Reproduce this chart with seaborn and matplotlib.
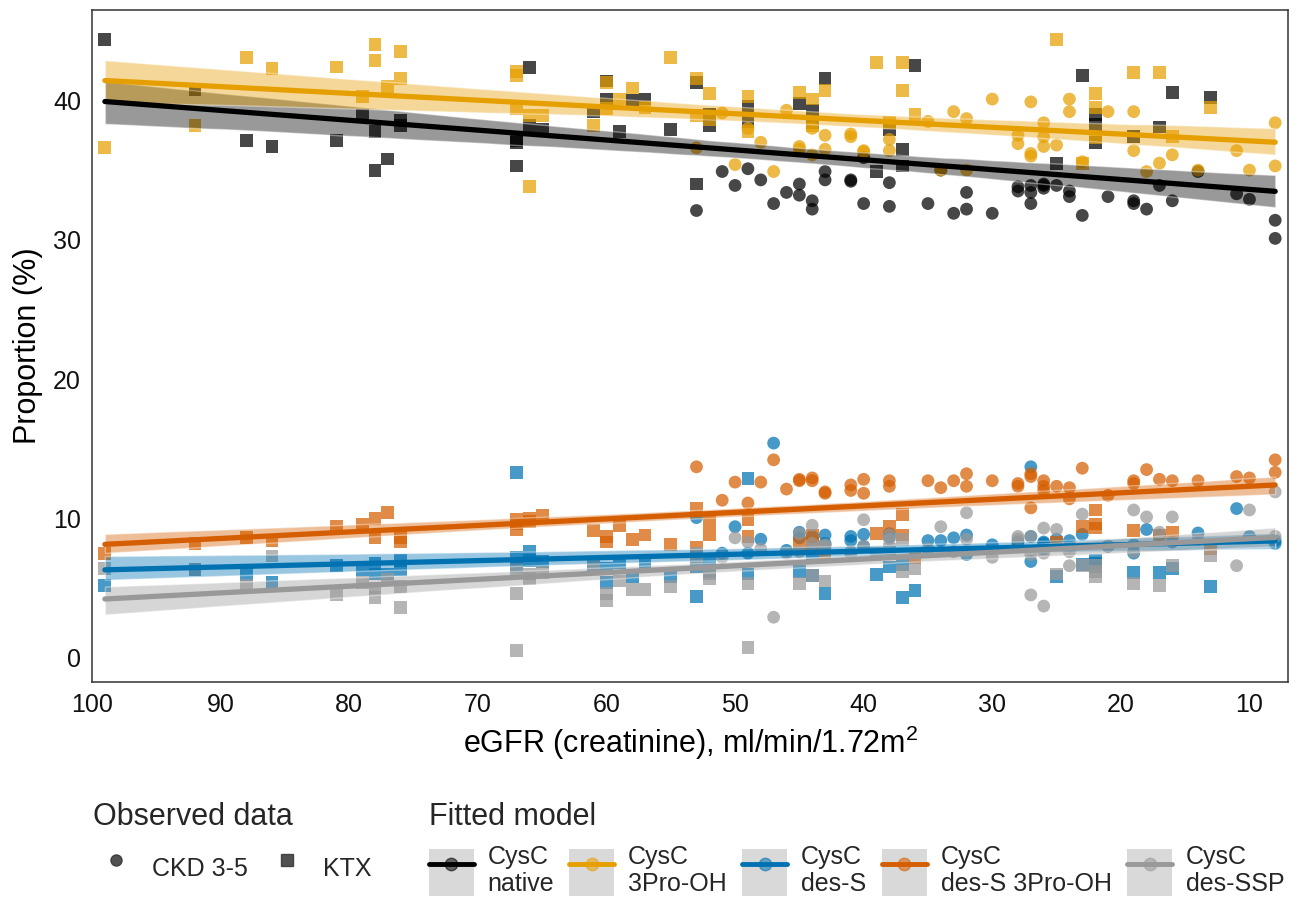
import numpy as np
import pandas as pd
import matplotlib
matplotlib.use('Agg')
import matplotlib.pyplot as plt
from matplotlib.lines import Line2D
from matplotlib.patches import Patch
from matplotlib.legend_handler import HandlerTuple
import seaborn as sns

# Theme first, fonts after (set_theme resets font.family)
sns.set_theme(style="white")
plt.rcParams['font.family'] = ['Liberation Sans', 'DejaVu Sans']
plt.rcParams['mathtext.fontset'] = 'custom'
plt.rcParams['mathtext.rm'] = 'Liberation Sans'
plt.rcParams['mathtext.it'] = 'Liberation Sans:italic'

# Observed data, KTX patients (squares)
ktx_egfr = [99, 92, 88, 86, 81, 79, 78, 78, 77, 76, 76, 67, 67, 67, 66, 66, 65, 61, 60, 60,
            59, 58, 57, 55, 53, 53, 52, 52, 49, 49, 45, 44, 44, 43, 39, 38, 37, 37, 36, 25,
            23, 22, 22, 22, 19, 17, 16, 13]
ktx_native = [44.4, 40.8, 37.1, 36.7, 37.1, 38.9, 37.8, 35.0, 35.8, 38.6, 38.2, 35.3, 37.1, 37.0,
              42.35, 38.2, 37.9, 39.2, 40.1, 41.4, 37.8, 40.0, 40.1, 37.9, 34.0, 41.3, 38.2, 39.0,
              39.6, 38.5, 39.8, 39.3, 38.4, 41.6, 34.9, 37.9, 36.5, 35.3, 42.5, 35.5, 41.8, 39.0,
              38.3, 37.0, 37.4, 38.1, 40.6, 40.2]
ktx_3prooh = [36.6, 38.2, 43.1, 42.3, 42.4, 40.3, 44.0, 42.9, 41.0, 41.6, 43.5, 42.1, 39.4, 41.8,
              33.8, 38.9, 38.9, 38.2, 41.3, 39.4, 40.1, 40.9, 39.5, 43.1, 41.6, 38.9, 40.5, 38.6,
              37.8, 40.3, 40.6, 40.1, 38.2, 40.7, 42.7, 38.4, 42.7, 40.7, 39.0, 44.4, 35.5, 37.3,
              39.5, 40.5, 42.0, 42.0, 37.4, 39.5]
ktx_des_s = [5.2, 6.3, 5.95, 5.4, 6.6, 6.3, 6.0, 6.75, 6.0, 7.0, 6.3, 13.3, 7.2, 6.5,
             7.6, 7.0, 6.9, 6.7, 5.4, 6.4, 6.8, 5.8, 6.8, 5.8, 6.5, 4.4, 6.8, 6.2,
             6.0, 12.85, 6.2, 5.9, 7.4, 4.6, 5.95, 6.5, 4.3, 6.7, 4.8, 5.8, 6.7, 6.5,
             6.8, 7.0, 6.1, 6.1, 6.4, 5.1]
ktx_des_s_3prooh = [7.5, 8.2, 8.65, 8.4, 9.4, 9.6, 8.65, 10.0, 10.4, 8.65, 8.3, 9.2, 9.6, 9.9,
                    10.0, 9.8, 10.2, 9.1, 8.7, 8.3, 9.5, 8.5, 8.8, 8.1, 10.7, 7.9, 8.8, 9.7,
                    9.9, 8.7, 8.2, 8.8, 8.2, 7.5, 8.9, 9.4, 10.3, 8.8, 7.2, 8.3, 9.4, 10.6,
                    9.6, 9.3, 9.1, 8.8, 9.0, 7.8]
ktx_des_ssp = [6.4, 6.3, 5.2, 7.3, 4.5, 5.4, 4.3, 5.0, 5.6, 3.6, 5.1, 0.5, 6.3, 4.6,
               5.7, 6.0, 6.1, 6.7, 4.6, 4.1, 5.5, 4.9, 4.9, 5.1, 7.2, 7.5, 5.7, 6.0,
               5.3, 0.75, 5.35, 5.9, 7.8, 5.5, 7.5, 7.8, 6.2, 8.5, 6.4, 6.0, 6.6, 6.6,
               5.8, 6.2, 5.3, 5.2, 6.6, 7.3]

# Observed data, CKD 3-5 patients (circles)
ckd_egfr = [53, 51, 50, 49, 48, 47, 46, 45, 45, 44, 44, 43, 43, 41, 41, 40, 40, 38, 38, 35,
            34, 33, 32, 32, 30, 28, 28, 27, 27, 27, 26, 26, 26, 25, 24, 24, 23, 21, 19, 19,
            18, 17, 16, 14, 11, 10, 8, 8]
ckd_native = [32.1, 34.9, 33.9, 35.1, 34.3, 32.6, 33.4, 34.0, 33.2, 32.8, 32.2, 34.9, 34.3, 34.3,
              34.2, 32.6, 35.9, 34.1, 32.4, 32.6, 35.0, 31.9, 33.4, 32.2, 31.9, 33.8, 33.5, 32.6,
              33.4, 33.9, 33.9, 33.7, 34.0, 33.9, 33.5, 33.1, 31.75, 33.1, 32.8, 32.6, 32.2, 33.9,
              32.8, 34.9, 33.3, 32.9, 31.4, 30.1]
ckd_3prooh = [36.6, 39.1, 35.4, 38.0, 37.0, 34.9, 39.3, 36.7, 36.5, 36.1, 38.0, 36.5, 37.5, 37.6,
              37.4, 36.3, 36.4, 36.4, 37.2, 38.5, 35.0, 39.2, 35.0, 38.7, 40.1, 36.9, 37.5, 39.9,
              36.2, 36.0, 38.4, 36.7, 37.4, 36.8, 39.2, 40.1, 35.6, 39.2, 36.4, 39.2, 34.9, 35.5,
              36.1, 35.0, 36.4, 35.0, 35.3, 38.4]
ckd_des_s = [10.05, 7.5, 9.4, 7.5, 8.5, 15.4, 7.7, 9.0, 8.6, 8.0, 8.7, 8.8, 8.2, 8.7,
             8.4, 8.85, 8.0, 8.65, 8.9, 8.4, 8.4, 8.6, 8.8, 7.4, 8.1, 8.3, 8.0, 6.9,
             8.7, 13.7, 7.8, 8.3, 8.2, 8.5, 8.4, 8.0, 8.85, 8.0, 7.5, 8.1, 9.2, 8.8,
             8.3, 8.95, 10.7, 8.7, 8.4, 8.2]
ckd_des_s_3prooh = [13.7, 11.3, 12.6, 11.1, 12.6, 14.2, 12.1, 12.7, 12.8, 12.7, 12.9, 11.8, 11.9, 12.0,
                    12.4, 12.8, 11.8, 12.3, 12.7, 12.7, 12.2, 12.7, 12.3, 13.2, 12.7, 12.5, 12.3, 13.2,
                    13.0, 10.75, 12.3, 12.0, 12.7, 12.3, 11.4, 12.2, 13.6, 11.65, 12.7, 12.5, 13.5, 12.8,
                    12.7, 12.7, 13.0, 12.9, 13.3, 14.2]
ckd_des_ssp = [7.5, 7.2, 8.6, 8.3, 7.8, 2.9, 7.5, 7.6, 8.9, 9.5, 8.2, 8.0, 8.1, 7.4,
               7.6, 9.9, 8.0, 8.5, 8.8, 7.8, 9.4, 7.6, 10.4, 8.5, 7.2, 8.5, 8.7, 7.4,
               8.7, 4.5, 7.5, 9.3, 3.7, 9.2, 7.6, 6.6, 10.3, 8.0, 10.6, 7.6, 10.1, 9.0,
               10.1, 8.5, 6.6, 10.6, 11.9, 8.7]

series_names = ['CysC\nnative', 'CysC\n3Pro-OH', 'CysC\ndes-S', 'CysC\ndes-S 3Pro-OH', 'CysC\ndes-SSP']
series_colors = ['#000000', '#E69F00', '#0072B2', '#D55E00', '#999999']
group_names = ['CKD 3-5', 'KTX']

ktx = pd.DataFrame({'egfr': ktx_egfr, series_names[0]: ktx_native, series_names[1]: ktx_3prooh,
                    series_names[2]: ktx_des_s, series_names[3]: ktx_des_s_3prooh,
                    series_names[4]: ktx_des_ssp})
ktx['group'] = 'KTX'
ckd = pd.DataFrame({'egfr': ckd_egfr, series_names[0]: ckd_native, series_names[1]: ckd_3prooh,
                    series_names[2]: ckd_des_s, series_names[3]: ckd_des_s_3prooh,
                    series_names[4]: ckd_des_ssp})
ckd['group'] = 'CKD 3-5'
df = pd.concat([ckd, ktx], ignore_index=True)
long = df.melt(id_vars=['egfr', 'group'], var_name='series', value_name='proportion')

palette = dict(zip(series_names, series_colors))

fig = plt.figure(figsize=(13, 8.97), dpi=100)
ax = fig.add_axes([0.0708, 0.2397, 0.9200, 0.7492])

# Points
sns.scatterplot(data=long, x='egfr', y='proportion', hue='series', style='group',
                palette=palette, markers={'CKD 3-5': 'o', 'KTX': 's'},
                s=85, alpha=0.72, edgecolor='none', linewidth=0, legend=False, ax=ax)

# Linear fits with 95% CI per series
for name, col in zip(series_names, series_colors):
    sub = long[long['series'] == name]
    sns.regplot(data=sub, x='egfr', y='proportion', scatter=False, color=col,
                ci=95, seed=3, truncate=True, line_kws={'lw': 3.8}, ax=ax)
    ax.collections[-1].set_alpha(0.4)

ax.set_xlim(100, 7)
ax.set_ylim(-1.75, 46.5)
ax.set_xticks(np.arange(100, 9, -10))
ax.set_yticks([0, 10, 20, 30, 40])
ax.set_xlabel(r'eGFR (creatinine), ml/min/1.72m$^2$', fontsize=22, color='black', labelpad=5)
ax.set_ylabel('Proportion (%)', fontsize=22, color='black', labelpad=7)
ax.tick_params(axis='both', direction='out', length=5, width=1.1, colors='#333333',
               labelsize=18, labelcolor='#111111', pad=3)
for sp in ax.spines.values():
    sp.set_color('#333333')
    sp.set_linewidth(1.1)
ax.grid(False)

# Legend: observed data (shape)
obs_handles = [Line2D([], [], linestyle='none', marker='o', markersize=8, color='#333333', alpha=0.85),
               Line2D([], [], linestyle='none', marker='s', markersize=8, color='#333333', alpha=0.85)]
leg1 = fig.legend(obs_handles, group_names, title='Observed data', loc='upper left',
                  bbox_to_anchor=(0.064, 0.117), ncol=2, frameon=False, fontsize=18,
                  title_fontsize=22, alignment='left', handlelength=1.8, handleheight=2.5,
                  handletextpad=0.55, columnspacing=0.65, borderaxespad=0)

# Legend: fitted model (colour)
fit_handles = []
for col in series_colors:
    fit_handles.append((Patch(facecolor='#D9D9D9', edgecolor='none'),
                        Line2D([], [], color=col, lw=3.5),
                        Line2D([], [], linestyle='none', marker='o', markersize=9, color=col, alpha=0.55)))
leg2 = fig.legend(fit_handles, series_names, title='Fitted model', loc='upper left',
                  bbox_to_anchor=(0.322, 0.117), ncol=5, frameon=False, fontsize=18,
                  title_fontsize=22, alignment='left', handlelength=1.8, handleheight=2.5,
                  handletextpad=0.55, columnspacing=0.62, borderaxespad=0,
                  handler_map={tuple: HandlerTuple(ndivide=1, pad=0)})

fig.savefig('out.png', dpi=100)
